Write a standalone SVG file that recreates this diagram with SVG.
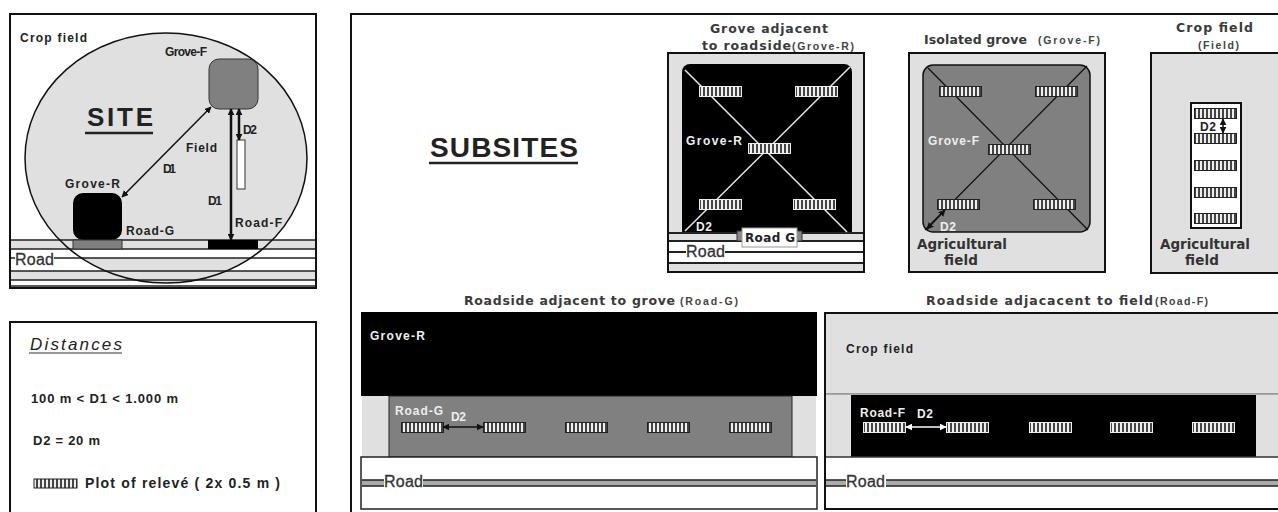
<svg xmlns="http://www.w3.org/2000/svg" width="1278" height="512" viewBox="0 0 1278 512">
<style>
text{font-family:"Liberation Sans",Arial,sans-serif;font-weight:bold;fill:#222}
.t{font-size:12px}
.h{font-family:"DejaVu Sans",sans-serif;font-size:12.5px;fill:#3a3a3a}
.a{font-family:"DejaVu Sans",sans-serif;font-size:13.5px;fill:#333}
.s{font-size:10.5px;fill:#444}
.r{font-family:"Liberation Sans",Arial,sans-serif;font-size:16px;font-weight:normal;fill:#333;stroke:#333;stroke-width:.3}
.w{fill:#eee}
.big{font-size:28px;fill:#222}
.b{fill:none;stroke:#111;stroke-width:2}
.gray{fill:#e0e0e0}
.mid{fill:#808080}
.ln{stroke:#222;stroke-width:2;fill:none}
.rd{stroke:#222;stroke-width:1.3;fill:none}
.wl{stroke:#e8e8e8;stroke-width:1.5;fill:none}
.kl{stroke:#111;stroke-width:1.3;fill:none}
.ar{stroke:#111;stroke-width:1.5;fill:none;marker-start:url(#ah);marker-end:url(#ah)}
.ark{stroke:#111;stroke-width:2.5;fill:none;marker-start:url(#ah);marker-end:url(#ah)}
.arw{stroke:#fff;stroke-width:1.5;fill:none;marker-start:url(#ahw);marker-end:url(#ahw)}
.pb{fill:url(#bars);stroke:#222;stroke-width:1}
.pw{fill:url(#bars);stroke:#eee;stroke-width:1}
</style>
<defs>
<pattern id="bars" width="4" height="8" patternUnits="userSpaceOnUse">
<rect width="4" height="8" fill="#eee"/><rect x="0" width="2" height="8" fill="#444"/>
</pattern>
<marker id="ah" viewBox="0 0 10 10" refX="9" refY="5" markerWidth="7" markerHeight="7" markerUnits="userSpaceOnUse" orient="auto-start-reverse"><path d="M0 0L10 5L0 10z" fill="#111"/></marker>
<marker id="ahw" viewBox="0 0 10 10" refX="9" refY="5" markerWidth="7" markerHeight="7" markerUnits="userSpaceOnUse" orient="auto-start-reverse"><path d="M0 0L10 5L0 10z" fill="#fff"/></marker>
<symbol id="plot" overflow="visible"><rect x="0.5" y="0.5" width="42" height="10" class="pb"/></symbol>
<symbol id="plotw" overflow="visible"><rect x="0.5" y="0.5" width="42" height="10" class="pw"/></symbol>
</defs>
<rect width="1278" height="512" fill="#fff"/>

<g id="site">
<rect x="10" y="14" width="306" height="274" fill="#fff"/>
<ellipse cx="166" cy="158" rx="141" ry="125" class="gray"/>
<rect x="11" y="240" width="305" height="9" class="gray"/>
<rect x="11" y="249" width="305" height="9" fill="#fff"/>
<rect x="11" y="271" width="305" height="9" class="gray"/>
<path d="M11 240H316M11 249H316M54 258H316M11 258H15M11 271H316M11 280H316M11 286H316" stroke="#222" stroke-width="1.4" fill="none"/>
<ellipse cx="166" cy="158" rx="141" ry="125" stroke="#111" stroke-width="1.5" fill="none"/>
<rect x="10" y="14" width="306" height="274" class="b"/>
<text x="20" y="42" class="t" textLength="67">Crop field</text>
<text x="165" y="56" class="t" textLength="42" fill="#444">Grove-F</text>
<text x="87" y="126" font-size="26" textLength="66">SITE</text>
<path d="M85 133H153" stroke="#222" stroke-width="2.500"/>
<text x="186" y="152" class="t" textLength="31">Field</text>
<text x="163" y="173" class="t" textLength="13">D1</text>
<text x="208" y="205" class="t" textLength="14">D1</text>
<text x="243" y="134" class="t" textLength="14">D2</text>
<text x="65" y="188" class="t" textLength="55">Grove-R</text>
<text x="126" y="235" class="t" textLength="48">Road-G</text>
<text x="235" y="227" class="t" textLength="47">Road-F</text>
<text x="15" y="265" class="r" textLength="39">Road</text>
</g>
<g id="site-blocks">
<rect id="grove-f" x="209" y="59" width="49" height="50" rx="10" class="mid" stroke="#333"/>
<rect id="grove-r" x="73" y="193" width="49" height="47" rx="10" fill="#000"/>
<rect id="road-g" x="73" y="240" width="49" height="9" class="mid" stroke="#333"/>
<rect id="road-f" x="208" y="240" width="50" height="9" fill="#000"/>
<rect id="plot-strip" x="237" y="140" width="8" height="49" fill="#fff" stroke="#333"/>
</g>

<g id="distances">
<path d="M10 512V322H316V512" class="b"/>
<text x="30" y="350" font-size="17" style="font-weight:normal;font-style:italic" textLength="92">Distances</text>
<path d="M29 353H122" stroke="#333" stroke-width="1.2"/>
<text x="31" y="403" font-size="13" textLength="147">100 m &lt; D1 &lt; 1.000 m</text>
<text x="33" y="445" font-size="13" textLength="67">D2 = 20 m</text>
<rect x="34" y="479" width="43" height="9" class="pb"/>
<text x="85" y="488" font-size="14" textLength="195">Plot of relevé ( 2x 0.5 m )</text>
</g>

<g id="frame"><path d="M351 512V14H1278" class="b"/></g>
<text x="430" y="157" class="big" textLength="148">SUBSITES</text>
<path d="M429 163H578" stroke="#222" stroke-width="2.500"/>

<g id="grove-adjacent">
<text x="710" y="33" class="h" textLength="118">Grove adjacent</text>
<text x="702" y="50" class="h" textLength="89">to roadside</text>
<text x="792" y="50" class="s" textLength="62">(Grove-R)</text>
<rect x="668" y="53" width="196" height="219" class="gray"/>
<rect x="682" y="64" width="170" height="175" rx="8" fill="#000"/>
<rect x="668" y="233" width="196" height="39" fill="#fff"/>
<rect x="668" y="264" width="196" height="8" class="gray"/>
<rect x="668" y="233" width="196" height="8" class="gray"/>
<path d="M668 233H864M668 241H864M668 252H686M725 252H864M668 263H864" class="ln"/>
<rect x="668" y="53" width="196" height="219" class="b"/>
<path d="M685 70L847 232M850 67L685 231" class="wl"/>
<use href="#plotw" x="699" y="86"/><use href="#plotw" x="795" y="86"/><use href="#plotw" x="748" y="143"/><use href="#plotw" x="699" y="199"/><use href="#plotw" x="793" y="199"/>
<text x="686" y="145" class="t w" textLength="56">Grove-R</text>
<text x="696" y="231" class="t w" textLength="16">D2</text>
<rect x="737" y="231" width="65" height="10" fill="#888" stroke="#333"/>
<rect x="742" y="228" width="55" height="19" fill="#fff" stroke="#999"/>
<text x="745" y="242" class="t" style="font-family:'DejaVu Sans',sans-serif" textLength="50">Road G</text>
<text x="686" y="257" class="r" textLength="39">Road</text>
</g>

<g id="isolated-grove">
<text x="924" y="44" class="h" textLength="103">Isolated grove</text>
<text x="1038" y="44" class="s" textLength="62">(Grove-F)</text>
<rect x="909" y="53" width="196" height="219" class="gray"/>
<rect x="923" y="65" width="167" height="167" rx="10" class="mid" stroke="#111" stroke-width="1.5"/>
<rect x="909" y="53" width="196" height="219" class="b"/>
<path d="M928 68L1088 230M1087 66L925 230" class="kl"/>
<use href="#plot" x="939" y="86"/><use href="#plot" x="1035" y="86"/><use href="#plot" x="988" y="144"/><use href="#plot" x="937" y="199"/><use href="#plot" x="1033" y="199"/>
<path d="M927 229L945 210" class="ar"/>
<text x="928" y="145" class="t w" textLength="51">Grove-F</text>
<text x="940" y="231" class="t w" textLength="16">D2</text>
<text x="917" y="249" class="a" textLength="90">Agricultural</text>
<text x="944" y="265" class="a" textLength="34">field</text>
</g>

<g id="crop-field">
<text x="1176" y="32" class="h" textLength="77">Crop field</text>
<text x="1198" y="49" class="s" textLength="41">(Field)</text>
<rect x="1151" y="53" width="128" height="220" class="gray"/>
<path d="M1278 53H1151V273H1278" class="b"/>
<rect x="1191" y="103" width="50" height="125" fill="#fff" stroke="#111" stroke-width="2"/>
<use href="#plot" x="1194" y="108"/><use href="#plot" x="1194" y="133"/><use href="#plot" x="1194" y="160"/><use href="#plot" x="1194" y="187"/><use href="#plot" x="1194" y="213"/>
<path d="M1223 119V133" class="ar"/>
<text x="1200" y="131" class="t" textLength="16">D2</text>
<text x="1160" y="249" class="a" textLength="90">Agricultural</text>
<text x="1185" y="265" class="a" textLength="34">field</text>
</g>

<g id="road-g-panel">
<text x="464" y="305" class="h" textLength="211">Roadside adjacent to grove</text>
<text x="680" y="305" class="s" textLength="58">(Road-G)</text>
<rect x="361" y="312" width="456" height="84" fill="#000"/>
<rect x="362" y="396" width="454" height="61" class="gray"/>
<rect x="389" y="396" width="403" height="61" class="mid" stroke="#222"/>
<rect x="361" y="457" width="456" height="52" fill="#fff" stroke="#222" stroke-width="1.5"/>
<rect x="423" y="480" width="393" height="6" fill="#aaa"/>
<rect x="362" y="480" width="22" height="6" fill="#aaa"/>
<path d="M362 480H384M423 480H816M362 486H384M423 486H816" class="rd"/>
<text x="370" y="340" class="t w" textLength="55">Grove-R</text>
<text x="395" y="415" class="t w" textLength="48">Road-G</text>
<text x="451" y="421" class="t w" textLength="15">D2</text>
<text x="384" y="487" class="r" textLength="39">Road</text>
<use href="#plot" x="401" y="422"/><use href="#plot" x="483" y="422"/><use href="#plot" x="565" y="422"/><use href="#plot" x="647" y="422"/><use href="#plot" x="729" y="422"/>
<path d="M443 427H483" class="ar"/>
</g>

<g id="road-f-panel">
<text x="926" y="305" class="h" textLength="227">Roadside adjacacent to field</text>
<text x="1155" y="305" class="s" textLength="53">(Road-F)</text>
<rect x="825" y="313" width="453" height="81" class="gray"/>
<path d="M1278 313H825V509H1278" class="b"/>
<rect x="826" y="395" width="452" height="62" class="gray"/>
<rect x="851" y="395" width="405" height="62" fill="#000"/>
<path d="M826 394H1278" stroke="#555"/>
<path d="M826 457H1278" stroke="#333" stroke-width="1.5"/>
<rect x="826" y="458" width="452" height="50" fill="#fff"/>
<rect x="886" y="480" width="392" height="6" fill="#aaa"/>
<rect x="826" y="480" width="20" height="6" fill="#aaa"/>
<path d="M826 480H846M886 480H1278M826 486H846M886 486H1278" class="rd"/>
<text x="846" y="353" class="t" textLength="67">Crop field</text>
<text x="860" y="417" class="t w" textLength="45">Road-F</text>
<text x="917" y="418" class="t w" textLength="16">D2</text>
<text x="846" y="487" class="r" textLength="39">Road</text>
<use href="#plotw" x="863" y="422"/><use href="#plotw" x="946" y="422"/><use href="#plotw" x="1029" y="422"/><use href="#plotw" x="1110" y="422"/><use href="#plotw" x="1192" y="422"/>
<path d="M906 427H946" class="arw"/>
</g>

<g id="connectors">
<path d="M211 107L122 197" class="ar"/>
<path d="M231 109V240" class="ark"/>
<path d="M239 109V140" class="ark"/>
</g>
</svg>
